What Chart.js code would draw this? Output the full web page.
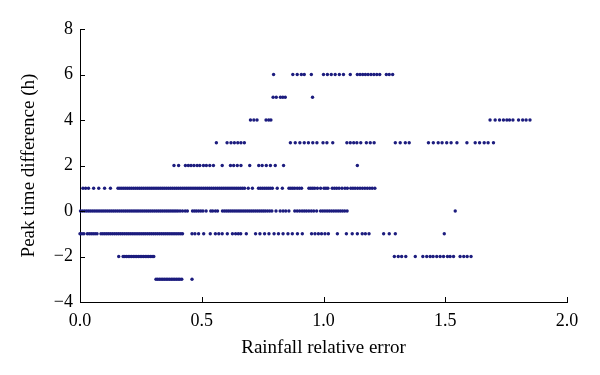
<!DOCTYPE html>
<html>
<head>
<meta charset="utf-8">
<script src="https://cdn.jsdelivr.net/npm/chart.js@4/dist/chart.umd.min.js"></script>
<style>
  html, body { margin: 0; padding: 0; background: #fff; }
  #wrap { width: 600px; height: 375px; position: relative; }
</style>
</head>
<body>
<div id="wrap"><canvas id="peakChart"></canvas></div>
<script>
// rainfall relative error values, grouped by peak time difference (h)
const errAt6 = [0.795, 0.874, 0.892, 0.909, 0.921, 0.950, 1.000, 1.016, 1.032, 1.048, 1.065, 1.082, 1.110,
  1.139, 1.150, 1.161, 1.172, 1.183, 1.195, 1.207, 1.219, 1.231, 1.258, 1.270, 1.284];
const errAt5 = [0.793, 0.806, 0.823, 0.833, 0.843, 0.955];
const errAt4 = [0.700, 0.714, 0.727, 0.764, 0.775, 0.784,
  1.684, 1.705, 1.723, 1.739, 1.753, 1.764, 1.778, 1.801, 1.818, 1.832, 1.848];
const errAt3 = [0.560, 0.604, 0.620, 0.634, 0.648, 0.661, 0.675,
  0.864, 0.884, 0.903, 0.921, 0.938, 0.956, 0.973, 0.998, 1.014, 1.038,
  1.096, 1.110, 1.124, 1.137, 1.153, 1.176, 1.192, 1.208,
  1.295, 1.315, 1.336, 1.352, 1.431, 1.451, 1.471, 1.487, 1.506, 1.524, 1.548,
  1.589, 1.623, 1.641, 1.660, 1.676, 1.698];
const errAt2 = [0.386, 0.405, 0.433, 0.445, 0.456, 0.468, 0.481, 0.492, 0.507, 0.519, 0.533, 0.548,
  0.584, 0.618, 0.631, 0.646, 0.661, 0.697, 0.734, 0.748, 0.765, 0.782, 0.802, 0.836, 1.139];
const errAt1 = [0.012, 0.023, 0.035, 0.056, 0.077, 0.101, 0.125,
  0.156, 0.164, 0.172, 0.180, 0.188, 0.196, 0.204, 0.212, 0.220, 0.228, 0.236, 0.244, 0.252, 0.260,
  0.268, 0.276, 0.284, 0.292, 0.300, 0.308, 0.316, 0.324, 0.332, 0.340, 0.348, 0.356, 0.364, 0.372,
  0.380, 0.388, 0.396, 0.404, 0.412, 0.420, 0.428, 0.436, 0.444, 0.452, 0.460, 0.468, 0.476, 0.484,
  0.492, 0.500, 0.508, 0.516, 0.524, 0.532, 0.540, 0.548, 0.556, 0.564, 0.572, 0.580, 0.588, 0.596,
  0.604, 0.612, 0.620, 0.628, 0.636, 0.644, 0.652, 0.660, 0.668, 0.676,
  0.691, 0.708, 0.733, 0.741, 0.749, 0.757, 0.765, 0.773, 0.781, 0.790, 0.810, 0.831,
  0.858, 0.866, 0.874, 0.882, 0.892, 0.901, 0.910, 0.940, 0.948, 0.956, 0.964, 0.975, 0.988,
  1.002, 1.010, 1.018, 1.036, 1.045, 1.054, 1.064, 1.076, 1.088, 1.098,
  1.112, 1.121, 1.130, 1.140, 1.150, 1.160, 1.170, 1.180, 1.190, 1.200, 1.211];
const errAt0 = [0.002, 0.010, 0.018, 0.026, 0.034, 0.042, 0.050, 0.058, 0.066, 0.074, 0.082, 0.090,
  0.098, 0.106, 0.114, 0.122, 0.130, 0.138, 0.146, 0.154, 0.162, 0.170, 0.178, 0.186, 0.194, 0.202,
  0.210, 0.218, 0.226, 0.234, 0.242, 0.250, 0.258, 0.266, 0.274, 0.282, 0.290, 0.298, 0.306, 0.314,
  0.322, 0.330, 0.338, 0.346, 0.354, 0.362, 0.370, 0.378, 0.386, 0.394, 0.402,
  0.411, 0.421, 0.432, 0.441,
  0.462, 0.470, 0.478, 0.487, 0.496, 0.505, 0.518, 0.537, 0.545, 0.556, 0.565,
  0.585, 0.593, 0.601, 0.609, 0.617, 0.625, 0.633, 0.641, 0.649, 0.657, 0.665, 0.673, 0.681, 0.689,
  0.697, 0.705, 0.713, 0.721, 0.729, 0.737, 0.745, 0.753, 0.761, 0.770, 0.779, 0.788,
  0.805, 0.822, 0.834, 0.845, 0.858,
  0.882, 0.892, 0.902, 0.912, 0.921, 0.930, 0.940, 0.950, 0.960, 0.972,
  0.988, 0.997, 1.006, 1.015, 1.024, 1.033, 1.042, 1.051, 1.060, 1.069, 1.078, 1.087, 1.097,
  1.541];
const errAtM1 = [0.000, 0.008, 0.016, 0.030, 0.038, 0.046, 0.054, 0.062, 0.070, 0.086, 0.094, 0.102,
  0.110, 0.118, 0.126, 0.134, 0.142, 0.150, 0.158, 0.166, 0.174, 0.182, 0.190, 0.198, 0.206, 0.214,
  0.222, 0.230, 0.238, 0.246, 0.254, 0.262, 0.270, 0.278, 0.286, 0.294, 0.302, 0.310, 0.318, 0.326,
  0.334, 0.342, 0.350, 0.358, 0.366, 0.374, 0.382, 0.390, 0.398, 0.406, 0.414, 0.421,
  0.460, 0.472, 0.487, 0.508, 0.535, 0.556, 0.570, 0.584, 0.605, 0.626, 0.639, 0.650, 0.660, 0.683,
  0.721, 0.739, 0.758, 0.776, 0.797, 0.815, 0.834, 0.854, 0.872, 0.893, 0.913,
  0.951, 0.965, 0.979, 0.992, 1.006, 1.020, 1.057, 1.094, 1.118, 1.139, 1.159, 1.172, 1.187,
  1.247, 1.270, 1.295, 1.496];
const errAtM2 = [0.159, 0.177, 0.184, 0.191, 0.198, 0.205, 0.212, 0.219, 0.226, 0.233, 0.240, 0.247,
  0.254, 0.261, 0.268, 0.275, 0.282, 0.289, 0.296, 0.303,
  1.291, 1.307, 1.321, 1.338, 1.377, 1.408, 1.424, 1.438, 1.450, 1.465, 1.479, 1.493,
  1.509, 1.520, 1.534, 1.561, 1.576, 1.590, 1.606];
const errAtM3 = [0.312, 0.319, 0.326, 0.333, 0.340, 0.347, 0.354, 0.361, 0.368, 0.375, 0.382, 0.389,
  0.396, 0.403, 0.410, 0.418, 0.460];

const peakLevels = [6, 5, 4, 3, 2, 1, 0, -1, -2, -3];
const errByLevel = [errAt6, errAt5, errAt4, errAt3, errAt2, errAt1, errAt0, errAtM1, errAtM2, errAtM3];

const xTicks = [0, 0.5, 1.0, 1.5, 2.0];
const yTicks = [-4, -2, 0, 2, 4, 6, 8];

const points = [];
peakLevels.forEach((lvl, i) => {
    errByLevel[i].forEach(e => points.push({ x: e, y: lvl }));
});

const serif = "'Liberation Serif', 'DejaVu Serif', serif";

// small inward tick marks like the original figure
const inwardTicks = {
    id: 'inwardTicks',
    afterDraw(chart) {
        const ctx = chart.ctx;
        const xs = chart.scales.x, ys = chart.scales.y;
        const area = chart.chartArea;
        ctx.save();
        ctx.strokeStyle = '#000';
        ctx.lineWidth = 1;
        ctx.beginPath();
        xTicks.forEach(v => {
            const px = Math.round(xs.getPixelForValue(v)) + 0.5;
            ctx.moveTo(px, area.bottom);
            ctx.lineTo(px, area.bottom - 5);
        });
        yTicks.forEach(v => {
            const py = Math.round(ys.getPixelForValue(v)) + 0.5;
            ctx.moveTo(area.left, py);
            ctx.lineTo(area.left + 5, py);
        });
        ctx.stroke();
        ctx.restore();
    }
};

const ctx = document.getElementById('peakChart').getContext('2d');
new Chart(ctx, {
    type: 'scatter',
    data: {
        datasets: [{
            data: points,
            backgroundColor: '#1c1c7e',
            borderColor: '#1c1c7e',
            pointRadius: 1.7,
            pointBorderWidth: 0,
            clip: false
        }]
    },
    options: {
        responsive: true,
        maintainAspectRatio: false,
        animation: false,
        layout: { padding: { left: 0, right: 33, top: 29, bottom: 0 } },
        plugins: {
            legend: { display: false },
            tooltip: { enabled: false }
        },
        scales: {
            x: {
                type: 'linear',
                min: 0,
                max: 2,
                afterFit: s => { s.height = 73; },
                afterBuildTicks: s => { s.ticks = xTicks.map(v => ({ value: v })); },
                grid: { display: true, drawOnChartArea: false, drawTicks: false },
                border: { display: true, color: '#000', width: 1 },
                ticks: {
                    color: '#000',
                    padding: 8,
                    font: { family: serif, size: 18 },
                    callback: v => v.toFixed(1)
                },
                title: {
                    display: true,
                    text: 'Rainfall relative error',
                    color: '#000',
                    font: { family: serif, size: 19 },
                    padding: { top: 0, bottom: 16 }
                }
            },
            y: {
                type: 'linear',
                min: -4,
                max: 8,
                afterFit: s => { s.width = 80; },
                afterBuildTicks: s => { s.ticks = yTicks.map(v => ({ value: v })); },
                grid: { display: true, drawOnChartArea: false, drawTicks: false },
                border: { display: true, color: '#000', width: 1 },
                ticks: {
                    color: '#000',
                    padding: 7,
                    font: { family: serif, size: 18 },
                    callback: v => (v < 0 ? '\u2212' + Math.abs(v) : String(v))
                },
                title: {
                    display: true,
                    text: 'Peak time difference (h)',
                    color: '#000',
                    font: { family: serif, size: 19 },
                    padding: { top: 18, bottom: 0 }
                }
            }
        }
    },
    plugins: [inwardTicks]
});
</script>
</body>
</html>
